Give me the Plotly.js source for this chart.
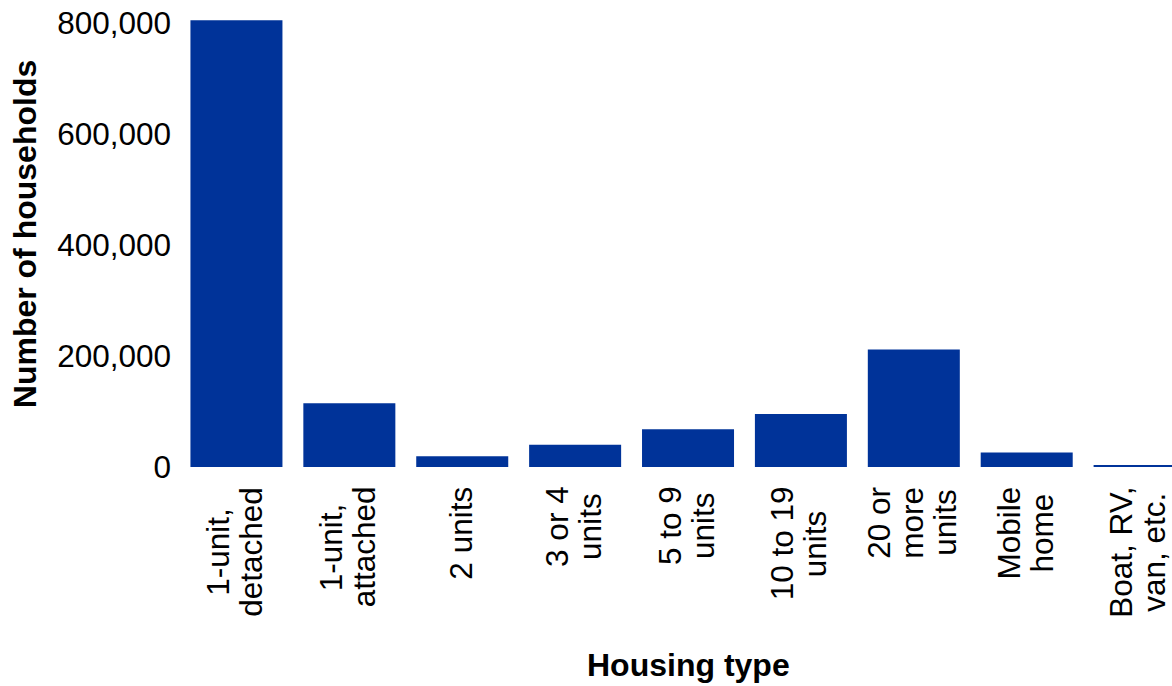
<!DOCTYPE html>
<html>
<head>
<meta charset="utf-8">
<script src="https://cdn.plot.ly/plotly-3.0.1.min.js"></script>
<style>html,body{margin:0;padding:0;background:#fff;overflow:hidden;}</style>
</head>
<body>
<div id="chart" style="width:1172px;height:686px;"></div>
<script>
const categories = ["1-unit,<br>detached", "1-unit,<br>attached", "2 units", "3 or 4<br>units", "5 to 9<br>units", "10 to 19<br>units", "20 or<br>more<br>units", "Mobile<br>home", "Boat, RV,<br>van, etc."];
const households = [805000, 115000, 19500, 40000, 68000, 95500, 211500, 26000, 2200];
const yTicks = [0, 200000, 400000, 600000, 800000];
const xTitle = "Housing type";
const yTitle = "Number of households";

const fontFamily = "Liberation Sans, Arial, sans-serif";
const tickSize = 31.5;
const titleSize = 32;
const lineStep = 33;

// measure label lines so each category's lines are centred on one another
const ctx = document.createElement("canvas").getContext("2d");
ctx.font = tickSize + "px 'Liberation Sans'";

const labelAnnotations = [];
categories.forEach(function (cat, i) {
  const lines = cat.split("<br>");
  const maxW = Math.max.apply(null, lines.map(function (l) { return ctx.measureText(l).width; }));
  lines.forEach(function (line, j) {
    labelAnnotations.push({
      xref: "x", yref: "paper",
      x: i, y: 0,
      text: line,
      textangle: -90,
      showarrow: false,
      xanchor: "center", yanchor: "middle",
      xshift: (j - (lines.length - 1) / 2) * lineStep - 1.5,
      yshift: -(19.5 + maxW / 2),
      font: {size: tickSize, family: fontFamily, color: "#000"}
    });
  });
});

// x-axis title, centred on the full (partly clipped) category band
labelAnnotations.push({
  xref: "x", yref: "paper",
  x: 4, y: 0,
  text: "<b>" + xTitle + "</b>",
  showarrow: false,
  xanchor: "center", yanchor: "top",
  yshift: -178,
  font: {size: titleSize, family: fontFamily, color: "#000"}
});

Plotly.newPlot("chart", [{
  type: "bar",
  x: categories,
  y: households,
  marker: {color: "#003399"},
  hoverinfo: "y"
}], {
  width: 1172,
  height: 686,
  margin: {l: 180, r: 0, t: 0.5, b: 218.5},
  paper_bgcolor: "#fff",
  plot_bgcolor: "#fff",
  bargap: 0.185,
  showlegend: false,
  font: {family: fontFamily, color: "#000"},
  xaxis: {
    type: "category",
    range: [-0.5, 8.287],
    showticklabels: false,
    ticks: "",
    showline: false,
    showgrid: false,
    zeroline: false,
    automargin: false
  },
  yaxis: {
    range: [0, 839500],
    tickvals: yTicks,
    tickformat: ",d",
    tickfont: {size: tickSize, family: fontFamily, color: "#000"},
    ticks: "",
    showline: false,
    showgrid: false,
    zeroline: false,
    ticklabelstandoff: 8,
    automargin: false,
    title: {text: "<b>" + yTitle + "</b>", font: {size: titleSize, family: fontFamily, color: "#000"}, standoff: 10}
  },
  annotations: labelAnnotations
}, {displayModeBar: false});
</script>
</body>
</html>
